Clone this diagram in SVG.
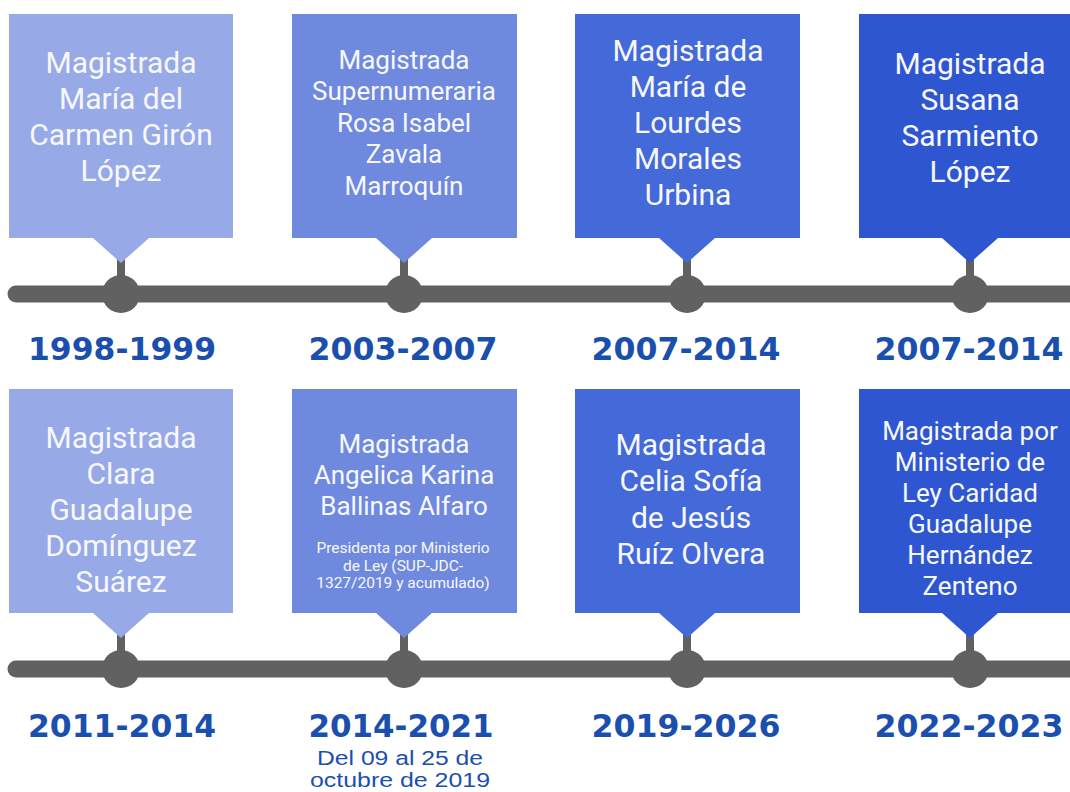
<svg xmlns="http://www.w3.org/2000/svg" width="1070" height="792" viewBox="0 0 1070 792">
<style>
.c1{fill:#97aae7}.c2{fill:#6f89df}.c3{fill:#4469d8}.c4{fill:#2f56d1}
.t{font-family:Roboto,"Liberation Sans",sans-serif;fill:#f7f8fd;text-anchor:middle}
.t30{font-size:30px}.t26{font-size:26px}.t15{font-size:15.5px}
.yr{font-family:"DejaVu Sans","Liberation Sans",sans-serif;font-weight:bold;font-size:32px;fill:#1b4fae;text-anchor:middle}
.sub{font-family:"Liberation Sans",Arial,sans-serif;font-size:20px;fill:#1b4fae;text-anchor:middle}
.ln{stroke:#616161;stroke-width:17;stroke-linecap:round;fill:none}
.dot{fill:#616161}
.stem{fill:#616161}
</style>
<rect width="1070" height="792" fill="#ffffff"/>
<g id="connectors">
<line class="ln" x1="16" y1="294" x2="1090" y2="294"/>
<line class="ln" x1="16" y1="669" x2="1090" y2="669"/>
</g>
<g id="node1">
<rect class="stem" x="117" y="258" width="8" height="20"/>
<circle class="dot" cx="121" cy="294" r="19"/>
<path class="c1" d="M9 14H233V238H149L121 263L93 238H9Z"/>
<text class="t t30"><tspan x="121" y="73">Magistrada</tspan><tspan x="121" y="109">María del</tspan><tspan x="121" y="145">Carmen Girón</tspan><tspan x="121" y="181">López</tspan></text>
<text class="yr" x="122" y="360" textLength="188" lengthAdjust="spacingAndGlyphs">1998-1999</text>
</g>
<g id="node2">
<rect class="stem" x="400" y="258" width="8" height="20"/>
<circle class="dot" cx="404" cy="294" r="19"/>
<path class="c2" d="M292 14H517V238H432L404 263L376 238H292Z"/>
<text class="t t26"><tspan x="404" y="69">Magistrada</tspan><tspan x="404" y="100">Supernumeraria</tspan><tspan x="404" y="132">Rosa Isabel</tspan><tspan x="404" y="163">Zavala</tspan><tspan x="404" y="195">Marroquín</tspan></text>
<text class="yr" x="403" y="360" textLength="189" lengthAdjust="spacingAndGlyphs">2003-2007</text>
</g>
<g id="node3">
<rect class="stem" x="683" y="258" width="8" height="20"/>
<circle class="dot" cx="687" cy="294" r="19"/>
<path class="c3" d="M575 14H800V238H715L687 263L659 238H575Z"/>
<text class="t t30"><tspan x="688" y="61">Magistrada</tspan><tspan x="688" y="97">María de</tspan><tspan x="688" y="133">Lourdes</tspan><tspan x="688" y="169">Morales</tspan><tspan x="688" y="205">Urbina</tspan></text>
<text class="yr" x="686" y="360" textLength="189" lengthAdjust="spacingAndGlyphs">2007-2014</text>
</g>
<g id="node4">
<rect class="stem" x="966" y="258" width="8" height="20"/>
<circle class="dot" cx="970" cy="294" r="19"/>
<path class="c4" d="M859 14H1084V238H998L970 263L942 238H859Z"/>
<text class="t t30"><tspan x="970" y="74">Magistrada</tspan><tspan x="970" y="110">Susana</tspan><tspan x="970" y="146">Sarmiento</tspan><tspan x="970" y="182">López</tspan></text>
<text class="yr" x="969" y="360" textLength="189" lengthAdjust="spacingAndGlyphs">2007-2014</text>
</g>
<g id="node5">
<rect class="stem" x="117" y="633" width="8" height="20"/>
<circle class="dot" cx="121" cy="669" r="19"/>
<path class="c1" d="M9 389H233V613H149L121 638L93 613H9Z"/>
<text class="t t30"><tspan x="121" y="448">Magistrada</tspan><tspan x="121" y="484">Clara</tspan><tspan x="121" y="520">Guadalupe</tspan><tspan x="121" y="556">Domínguez</tspan><tspan x="121" y="592">Suárez</tspan></text>
<text class="yr" x="122" y="737" textLength="188" lengthAdjust="spacingAndGlyphs">2011-2014</text>
</g>
<g id="node6">
<rect class="stem" x="400" y="633" width="8" height="20"/>
<circle class="dot" cx="404" cy="669" r="19"/>
<path class="c2" d="M292 389H517V613H432L404 638L376 613H292Z"/>
<text class="t t26"><tspan x="404" y="453">Magistrada</tspan><tspan x="404" y="484">Angelica Karina</tspan><tspan x="404" y="515">Ballinas Alfaro</tspan></text>
<text class="t t15"><tspan x="403" y="553">Presidenta por Ministerio</tspan><tspan x="403" y="571">de Ley (SUP-JDC-</tspan><tspan x="403" y="588">1327/2019 y acumulado)</tspan></text>
<text class="yr" x="401" y="737" textLength="185" lengthAdjust="spacingAndGlyphs">2014-2021</text>
<text class="sub" x="400" y="765" textLength="166" lengthAdjust="spacingAndGlyphs">Del 09 al 25 de</text>
<text class="sub" x="400" y="787" textLength="180" lengthAdjust="spacingAndGlyphs">octubre de 2019</text>
</g>
<g id="node7">
<rect class="stem" x="683" y="633" width="8" height="20"/>
<circle class="dot" cx="687" cy="669" r="19"/>
<path class="c3" d="M575 389H800V613H715L687 638L659 613H575Z"/>
<text class="t t30"><tspan x="691" y="455">Magistrada</tspan><tspan x="691" y="491">Celia Sofía</tspan><tspan x="691" y="528">de Jesús</tspan><tspan x="691" y="564">Ruíz Olvera</tspan></text>
<text class="yr" x="686" y="737" textLength="189" lengthAdjust="spacingAndGlyphs">2019-2026</text>
</g>
<g id="node8">
<rect class="stem" x="966" y="633" width="8" height="20"/>
<circle class="dot" cx="970" cy="669" r="19"/>
<path class="c4" d="M859 389H1084V613H998L970 638L942 613H859Z"/>
<text class="t t26"><tspan x="970" y="440">Magistrada por</tspan><tspan x="970" y="471">Ministerio de</tspan><tspan x="970" y="502">Ley Caridad</tspan><tspan x="970" y="533">Guadalupe</tspan><tspan x="970" y="564">Hernández</tspan><tspan x="970" y="595">Zenteno</tspan></text>
<text class="yr" x="969" y="737" textLength="189" lengthAdjust="spacingAndGlyphs">2022-2023</text>
</g>
</svg>
